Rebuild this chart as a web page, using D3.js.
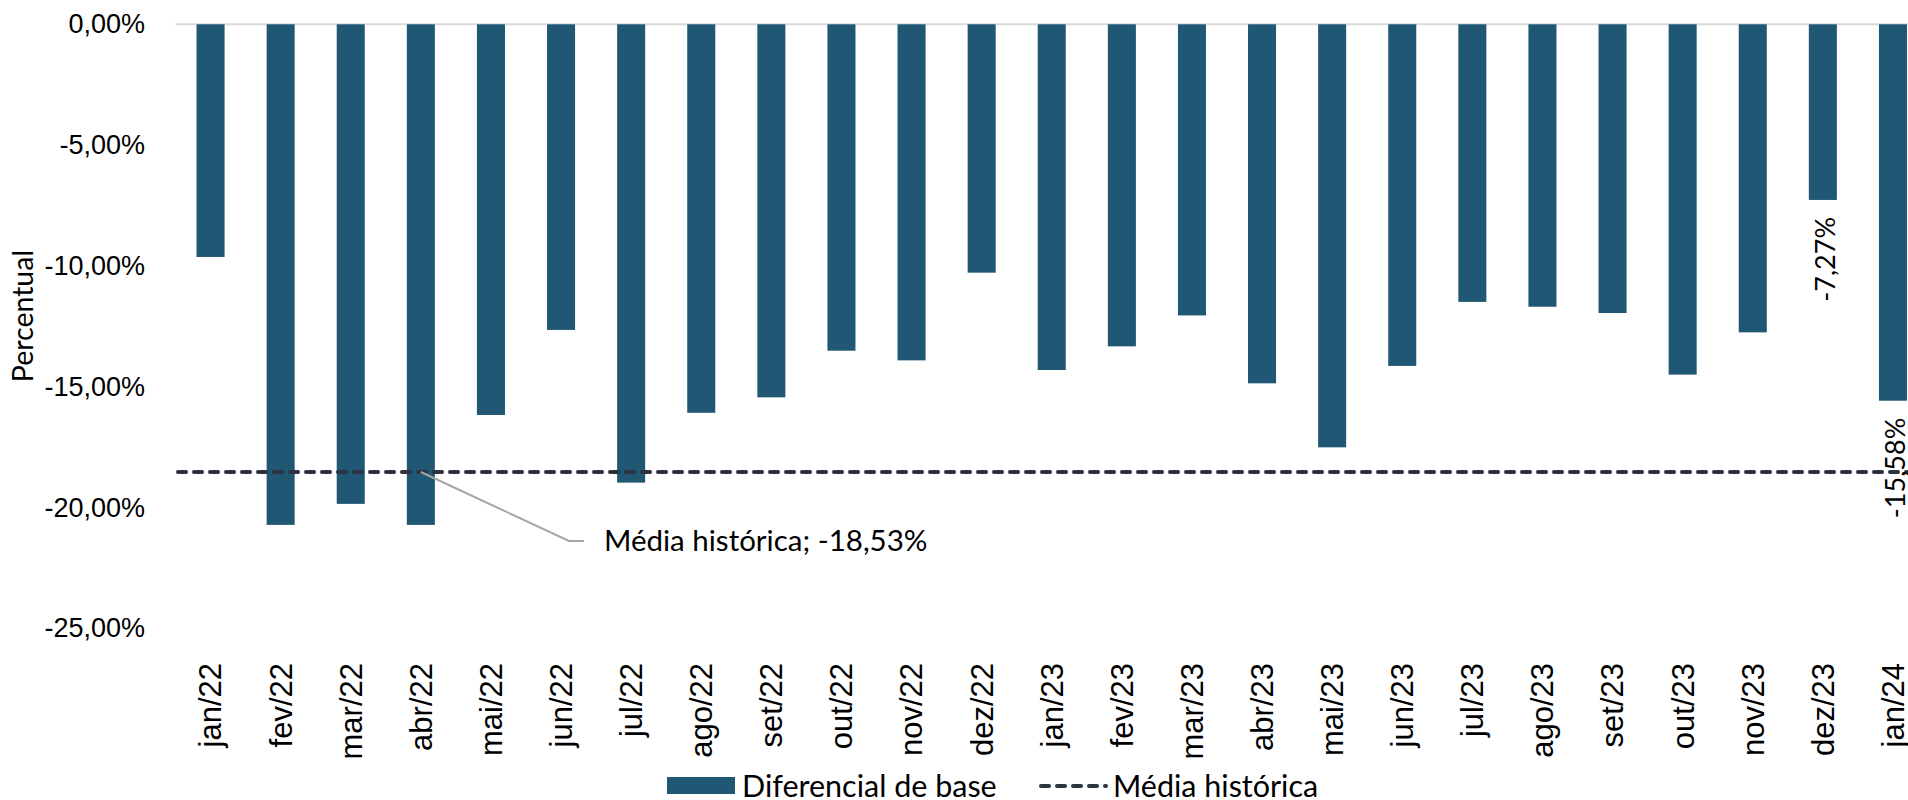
<!DOCTYPE html>
<html>
<head>
<meta charset="utf-8">
<script src="https://cdn.jsdelivr.net/npm/d3@7"></script>
<style>
  body { margin: 0; background: #fff; }
  svg { display: block; font-family: Lato, "Noto Sans", sans-serif; }
  .tick-label { font-size: 27px; fill: #000; }
  .x-label { font-size: 31px; fill: #000; }
  .title { font-size: 28.5px; fill: #000; }
  .note { font-size: 29.5px; fill: #000; }
  .legend-label { font-size: 30.5px; fill: #000; }
</style>
</head>
<body>
<div id="chart"></div>
<script>
// months and basis differential (%)
var months = ["jan/22", "fev/22", "mar/22", "abr/22", "mai/22", "jun/22", "jul/22", "ago/22", "set/22", "out/22", "nov/22", "dez/22",
  "jan/23", "fev/23", "mar/23", "abr/23", "mai/23", "jun/23", "jul/23", "ago/23", "set/23", "out/23", "nov/23", "dez/23", "jan/24"];
var diferencial = [-9.63, -20.72, -19.85, -20.72, -16.17, -12.65, -18.97, -16.08, -15.44, -13.51, -13.91, -10.28,
  -14.31, -13.33, -12.05, -14.86, -17.51, -14.14, -11.49, -11.69, -11.95, -14.50, -12.75, -7.27, -15.58];
var mediaHistorica = -18.53;
var yTicks = [0, -5, -10, -15, -20, -25];
// only the last two bars carry a label
var labeledMonths = ["dez/23", "jan/24"];

var w = 1908;
var h = 800;
var barColor = "#1f5774";
var lineColor = "#2b3440";

function fmt(v) {
  return v.toFixed(2).replace(".", ",") + "%";
}

var svg = d3.select("#chart")
  .append("svg")
  .attr("width", w)
  .attr("height", h);

var xScale = d3.scaleBand()
  .domain(months)
  .range([175.5, 1928])
  .paddingInner(0.6)
  .paddingOuter(0.3);

var yScale = d3.scaleLinear()
  .domain([-25, 0])
  .range([628.3, 24.3]);

// zero line
svg.append("line")
  .attr("x1", 175.5)
  .attr("x2", w)
  .attr("y1", yScale(0))
  .attr("y2", yScale(0))
  .attr("stroke", "#d9d9d9")
  .attr("stroke-width", 2);

// y axis labels
var yAxis = d3.axisLeft(yScale)
  .tickValues(yTicks)
  .tickFormat(fmt)
  .tickSize(0)
  .tickPadding(0);

var gy = svg.append("g")
  .attr("transform", "translate(145,0)")
  .call(yAxis);
gy.select(".domain").remove();
gy.selectAll("text")
  .attr("class", "tick-label")
  .attr("font-family", null)
  .attr("font-size", null);

// y axis title
svg.append("text")
  .attr("class", "title")
  .attr("transform", "translate(23," + 316 + ") rotate(-90)")
  .attr("text-anchor", "middle")
  .attr("dy", "0.35em")
  .text("Percentual");

// bars
svg.selectAll(".bar")
  .data(months)
  .enter()
  .append("rect")
  .attr("class", "bar")
  .attr("x", function(d) { return xScale(d); })
  .attr("width", xScale.bandwidth())
  .attr("y", yScale(0))
  .attr("height", function(d, i) { return yScale(diferencial[i]) - yScale(0); })
  .attr("fill", barColor);

// x axis labels (rotated)
var xAxis = d3.axisBottom(xScale)
  .tickSize(0)
  .tickPadding(0);

var gx = svg.append("g")
  .call(xAxis);
gx.select(".domain").remove();
gx.selectAll("text")
  .attr("class", "x-label")
  .attr("font-family", null)
  .attr("font-size", null)
  .attr("transform", "translate(0,663) rotate(-90)")
  .attr("text-anchor", "end")
  .attr("x", 0)
  .attr("y", 0)
  .attr("dy", "0.35em");

// mean line
svg.append("line")
  .attr("x1", 178)
  .attr("x2", w)
  .attr("y1", yScale(mediaHistorica))
  .attr("y2", yScale(mediaHistorica))
  .attr("stroke", lineColor)
  .attr("stroke-width", 4)
  .attr("stroke-linecap", "round")
  .attr("stroke-dasharray", "8,8");

// data labels for last bars
svg.selectAll(".dlabel")
  .data(labeledMonths)
  .enter()
  .append("text")
  .attr("class", "tick-label")
  .attr("transform", function(d) {
    var v = diferencial[months.indexOf(d)];
    return "translate(" + (xScale(d) + xScale.bandwidth() / 2 + 3) + "," + (yScale(v) + 17) + ") rotate(-90)";
  })
  .attr("text-anchor", "end")
  .attr("dy", "0.35em")
  .text(function(d) { return fmt(diferencial[months.indexOf(d)]); });

// leader line + annotation for the mean
var ax = xScale("abr/22") + xScale.bandwidth() / 2;
var ay = yScale(mediaHistorica);
svg.append("polyline")
  .attr("points", [[ax, ay], [569, 541], [584, 541]].map(function(p) { return p.join(","); }).join(" "))
  .attr("fill", "none")
  .attr("stroke", "#a6a6a6")
  .attr("stroke-width", 2);

svg.append("text")
  .attr("class", "note")
  .attr("x", 604)
  .attr("y", 541)
  .attr("dy", "0.35em")
  .text("Média histórica; " + fmt(mediaHistorica));

// legend
var legend = svg.append("g");
legend.append("rect")
  .attr("x", 667)
  .attr("y", 777)
  .attr("width", 68)
  .attr("height", 17)
  .attr("fill", barColor);
legend.append("text")
  .attr("class", "legend-label")
  .attr("x", 742)
  .attr("y", 786)
  .attr("dy", "0.35em")
  .text("Diferencial de base");
legend.append("line")
  .attr("x1", 1041)
  .attr("x2", 1106)
  .attr("y1", 786)
  .attr("y2", 786)
  .attr("stroke", lineColor)
  .attr("stroke-width", 4)
  .attr("stroke-linecap", "round")
  .attr("stroke-dasharray", "8,8");
legend.append("text")
  .attr("class", "legend-label")
  .attr("x", 1113)
  .attr("y", 786)
  .attr("dy", "0.35em")
  .text("Média histórica");
</script>
</body>
</html>
